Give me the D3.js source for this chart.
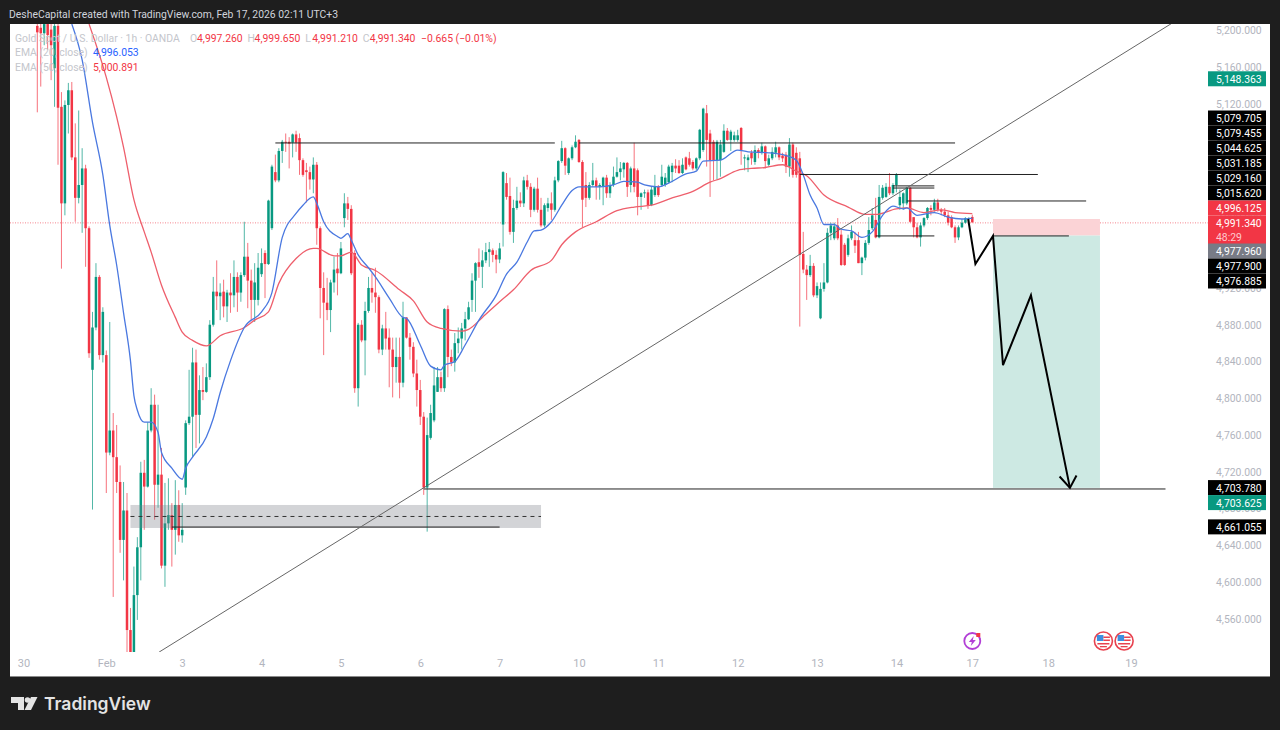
<!DOCTYPE html>
<html>
<head>
<meta charset="utf-8">
<script src="https://cdn.jsdelivr.net/npm/d3@7"></script>
<style>
	html, body { margin: 0; background: #1e1e1e; }
	svg { display: block; font-family: Roboto, sans-serif; }
</style>
</head>
<body>
<svg id="chart" width="1280" height="730"></svg>
<script>
// hourly XAUUSD bars
const opens = [
	5205,5203,5197,5207,5201,5159,5205,5117,5012,5119,
	5135,5062,5018,5032,5050,4985,4831,4877,4932,4847,
	4847,4741,4765,4736,4709,4646,4678,4548,4524,4586,
	4638,4719,4704,4765,4793,4706,4717,4618,4664,4673,
	4657,4684,4651,4703,4773,4780,4839,4782,4809,4807,
	4823,4880,4916,4911,4916,4900,4915,4912,4932,4915,
	4934,4954,4928,4907,4907,4935,4958,4946,4985,5046,
	5037,5069,5079,5079,5078,5087,5083,5059,5048,5046,
	5038,5054,4985,4920,4904,4896,4926,4941,4936,4996,
	5012,5006,4958,4811,4880,4863,4895,4920,4915,4910,
	4853,4876,4866,4853,4834,4845,4817,4888,4866,4856,
	4827,4809,4780,4703,4757,4776,4807,4823,4811,4897,
	4845,4839,4860,4865,4876,4886,4907,4928,4948,4943,
	4950,4959,4961,4956,4951,4989,5034,5020,4981,5007,
	5015,5012,5037,5030,5005,5028,5005,4988,5007,5012,
	5005,5037,5058,5072,5045,5061,5073,5081,5057,5032,
	5018,5032,5037,5030,5030,5040,5023,5032,5041,5046,
	5049,5056,5032,5050,5048,5019,5023,5024,5010,5021,
	5030,5032,5032,5035,5046,5053,5053,5045,5062,5061,
	5057,5050,5061,5070,5110,5088,5079,5059,5059,5068,
	5091,5081,5081,5081,5094,5061,5059,5067,5057,5070,
	5067,5074,5054,5061,5067,5073,5064,5065,5052,5076,
	5067,5061,4957,4940,4934,4944,4912,4887,4919,4926,
	4980,4974,4988,4978,4967,4956,4974,4972,4972,4947,
	4953,4969,4985,4994,4975,5018,5019,5030,5023,5032,
	5010,5012,5012,5029,4997,4986,4975,4988,4996,5007,
	5005,5013,5005,5003,4999,4997,4986,4975,4986,4991,
	4995,4997.26
]
const highs = [
	5211,5209,5211,5211,5207,5211,5211,5133,5124,5143,
	5144,5099,5113,5072,5054,4987,4894,4947,4934,4899,
	4852,4883,4784,4771,4727,4709,4697,4572,4617,4649,
	4731,4733,4774,4811,4804,4793,4746,4708,4713,4686,
	4711,4700,4686,4776,4831,4855,4853,4825,4834,4838,
	4885,4932,4950,4925,4929,4918,4936,4950,4937,4937,
	4992,4969,4940,4947,4958,4963,4961,5016,5054,5065,
	5072,5081,5088,5084,5088,5091,5088,5061,5056,5052,
	5062,5057,4987,4937,4931,4929,4954,4958,4970,5023,
	5019,5010,4961,4882,4885,4905,4932,4936,4942,4912,
	4880,4894,4876,4866,4866,4866,4905,4888,4871,4861,
	4842,4820,4785,4779,4793,4834,4834,4829,4898,4901,
	4853,4871,4877,4882,4894,4905,4936,4948,4963,4961,
	4969,4970,4963,4961,4969,5047,5045,5040,5016,5030,
	5024,5041,5043,5034,5030,5040,5018,5012,5018,5024,
	5041,5059,5080,5073,5062,5075,5086,5082,5059,5046,
	5035,5056,5040,5034,5041,5043,5035,5052,5062,5057,
	5057,5057,5052,5078,5050,5024,5027,5027,5030,5043,
	5032,5054,5045,5054,5056,5060,5059,5061,5063,5068,
	5059,5062,5093,5116,5119,5092,5081,5081,5081,5098,
	5094,5092,5090,5092,5095,5065,5065,5070,5075,5072,
	5078,5075,5065,5073,5079,5074,5067,5068,5083,5078,
	5073,5068,4981,4945,4956,4947,4926,4926,4947,4985,
	4991,4991,4996,4983,4969,4978,4988,4981,4981,4954,
	4972,4997,5007,5018,5032,5032,5034,5045,5034,5045,
	5027,5024,5030,5030,4997,4991,4991,4997,5008,5010,
	5017,5017,5007,5007,5003,4999,4988,4988,4995,4997,
	4997,4999.65
]
const lows = [
	5111,5139,5184,5179,5146,5117,5054,4941,4999,5088,
	5059,4992,5012,4980,4943,4844,4679,4874,4842,4839,
	4697,4738,4584,4697,4632,4602,4524,4524,4524,4559,
	4602,4657,4703,4763,4668,4681,4615,4595,4657,4617,
	4630,4644,4643,4695,4771,4736,4746,4751,4798,4806,
	4820,4878,4896,4885,4888,4883,4893,4899,4894,4905,
	4932,4898,4885,4883,4901,4932,4909,4945,4983,5035,
	5035,5056,5068,5050,5062,5068,5043,5041,5013,5027,
	5023,4967,4887,4847,4885,4872,4915,4912,4935,4986,
	4994,4934,4806,4791,4861,4825,4893,4904,4893,4849,
	4847,4853,4812,4801,4817,4800,4812,4865,4842,4823,
	4791,4771,4695,4655,4755,4774,4807,4807,4807,4823,
	4835,4829,4849,4853,4863,4885,4894,4894,4931,4920,
	4947,4943,4948,4936,4947,4965,5016,4978,4969,5005,
	5008,5008,5027,4997,5003,5002,4986,4986,5003,4994,
	5003,5035,5056,5043,5043,5059,5072,5056,4986,5008,
	5016,5030,5016,5016,5010,5018,5018,5030,5040,5037,
	5040,5019,5024,5024,4999,5005,5018,5006,5009,5019,
	5019,5030,5030,5034,5035,5045,5044,5044,5048,5052,
	5048,5048,5059,5068,5052,5019,5037,5038,5041,5067,
	5080,5069,5079,5079,5054,5048,5046,5054,5054,5061,
	5065,5050,5052,5059,5062,5059,5057,5045,5041,5040,
	5040,4878,4936,4907,4932,4910,4909,4886,4916,4925,
	4972,4972,4972,4944,4944,4954,4972,4958,4947,4934,
	4950,4967,4983,4974,4974,5016,5018,5021,5021,5024,
	5005,5005,5010,4991,4975,4974,4965,4986,4994,4999,
	5003,5003,4999,4997,4988,4985,4969,4972,4985,4990,
	4991,4991.21
]
const closes = [
	5198,5197,5207,5195,5184,5205,5116,5012,5119,5135,
	5062,5018,5032,5050,4985,4849,4877,4932,4847,4894,
	4741,4765,4736,4709,4646,4678,4548,4524,4586,4638,
	4719,4704,4765,4793,4706,4717,4618,4664,4673,4657,
	4684,4651,4657,4773,4780,4839,4782,4809,4807,4823,
	4880,4916,4911,4915,4900,4915,4912,4932,4915,4934,
	4954,4928,4907,4926,4942,4947,4946,5015,5052,5037,
	5069,5079,5078,5077,5087,5078,5059,5043,5046,5038,
	5054,4985,4920,4904,4896,4926,4940,4936,4963,5012,
	5006,4936,4811,4880,4863,4895,4920,4915,4910,4853,
	4876,4865,4853,4834,4845,4817,4888,4866,4856,4827,
	4809,4780,4703,4760,4784,4814,4823,4811,4897,4845,
	4839,4860,4865,4876,4886,4899,4928,4947,4943,4950,
	4959,4962,4956,4951,4963,5046,5019,4981,5007,5015,
	5012,5037,5030,5005,5028,5005,4988,5010,5012,5005,
	5037,5058,5072,5053,5061,5073,5079,5057,5016,5018,
	5032,5037,5030,5032,5040,5023,5032,5041,5046,5050,
	5056,5030,5050,5030,5019,5023,5024,5010,5027,5030,
	5021,5041,5040,5052,5053,5050,5045,5054,5049,5054,
	5050,5061,5092,5115,5081,5059,5059,5079,5076,5091,
	5081,5090,5086,5086,5070,5062,5062,5061,5070,5067,
	5074,5058,5061,5068,5073,5062,5061,5052,5076,5043,
	5043,4956,4940,4934,4944,4912,4922,4919,4926,4980,
	4988,4987,4974,4945,4945,4974,4981,4966,4947,4953,
	4969,4983,4999,4975,5019,5029,5030,5023,5032,5043,
	5019,5023,5029,4992,4986,4975,4988,4996,5007,5005,
	5013,5005,5003,4999,4991,4986,4975,4986,4991,4996,
	4996,4991.34
]

const ema20Bars = [10,13,16,19,21,23,25,27,28,29,31,33,35,36,39,42,43,45,49,51,53,56,60,65,68,71,75,77,80,81,83,87,88,90,91,93,96,98,102,106,107,111,114,117,118,121,124,128,133,136,139,142,144,146,149,152,155,157,163,167,170,174,176,180,183,188,191,193,198,203,206,212,217,220,222,224,226,228,231,233,236,239,242,245,248,251,252,255,260,264,268,271]
const ema20 = [5207,5168,5100,5043,4988,4945,4893,4841,4803,4787,4774,4774,4763,4741,4724,4712,4724,4736,4758,4778,4806,4841,4877,4894,4915,4975,5001,5010,5019,5012,4992,4976,4974,4979,4972,4956,4942,4932,4909,4888,4887,4858,4835,4831,4836,4840,4858,4885,4912,4935,4948,4970,4982,4983,4992,5010,5026,5030,5030,5032,5036,5035,5032,5030,5034,5044,5047,5058,5059,5070,5068,5067,5064,5059,5043,5021,5007,4989,4989,4984,4982,4975,4981,4999,5009,5006,5007,4999,5002,4997,4995,4996.053]
const ema50Bars = [15,20,23,25,28,31,33,36,40,42,45,49,53,60,63,67,70,75,80,81,86,88,91,94,98,105,109,113,117,123,125,129,134,138,143,149,152,156,162,168,173,178,184,190,195,198,203,207,211,216,220,223,228,235,240,243,249,252,257,262,266,271]
const ema50 = [5207,5149,5106,5073,5016,4981,4959,4923,4888,4872,4863,4857,4868,4877,4885,4894,4925,4952,4963,4963,4955,4955,4959,4945,4939,4918,4906,4883,4876,4873,4875,4888,4905,4918,4939,4950,4967,4981,4992,5004,5008,5010,5018,5025,5035,5039,5048,5050,5051,5054,5047,5042,5021,5008,5000,5000,5006,5007,5002,5005,5002,5000.891]

const yTicks = [5200,5160,5120,5080,5040,5000,4960,4920,4880,4840,4800,4760,4720,4680,4640,4600,4560]
const timeBars = [-4,20,42,65,88,111,134,157,180,203,226,249,271,293,317]
const timeLabels = ['30','Feb','3','4','5','6','7','10','11','12','13','14','17','18','19']

// drawings: [startBar, endBar, price]
const hLines = [
	[69,150,5077.7],[157,266,5077.7],[221,290,5043.4],
	[248,260,5031],[248,260,5028.7],[252,304,5014.6],
	[243,260,4976.6],[277,299,4976.6],[112,327,4701.4],[39,134,4660]
]
const trendBars = [35.3,328.9]
const trendPrices = [4524,5208]
const zoneBars = [27,146]
const zonePrices = [4684,4659,4671.5]
const shortBars = [277,308]
const shortPrices = [4995,4977,4702.6]
const pathBars = [269.8,271.9,277,279.9,288,299.3]
const pathPrices = [4995,4946,4976.6,4836,4912,4702.6]
const headBars = [296.3,299.3,301.2]
const headPrices = [4715,4702.6,4716]

const labelValues = [5148.363,5079.705,5079.455,5044.625,5031.185,5029.16,5015.62,4996.125,4991.34,4977.96,4977.9,4976.885,4703.78,4703.625,4661.055]
const labelKinds = ['up','pin','pin','pin','pin','pin','pin','down','last','entry','pin','pin','pin','up','pin']
const eventBars = [309,315]
const lightningBar = 271

const W = 1280, H = 730
const plot = { left: 10, right: 1270, top: 24, bottom: 676, axis: 1208 }
const UP = '#089981', DOWN = '#f23645'
const kindColor = { up: UP, pin: '#000', down: DOWN, last: DOWN, entry: '#787b86' }
const fontSize = 10.4

const svg = d3.select('#chart')
const xScale = d3.scaleLinear().domain([0, 271]).range([37.3, 972.3])
const yScale = d3.scaleLinear().domain([4560, 5200]).range([619, 30.5])
const fmt = d3.format(',.3f')

svg.append('rect').attr('width', W).attr('height', H).attr('fill', '#1e1e1e')
svg.append('rect').attr('x', plot.left).attr('y', plot.top)
	.attr('width', plot.right - plot.left).attr('height', plot.bottom - plot.top)
	.attr('fill', '#fff')
svg.append('line').attr('x1', plot.left).attr('x2', plot.right)
	.attr('y1', plot.bottom + 0.5).attr('y2', plot.bottom + 0.5).attr('stroke', '#8a8a8a')

svg.append('clipPath').attr('id', 'pane').append('rect')
	.attr('x', plot.left).attr('y', plot.top)
	.attr('width', plot.axis - plot.left).attr('height', 652 - plot.top)

const pane = svg.append('g').attr('clip-path', 'url(#pane)')

// last price line
const lastY = yScale(closes[closes.length - 1]) + 0.5
pane.append('line')
	.attr('x1', plot.left).attr('x2', plot.axis)
	.attr('y1', lastY).attr('y2', lastY)
	.attr('stroke', DOWN).attr('stroke-dasharray', '1,1.5').attr('stroke-opacity', 0.6)

// short position box
pane.append('rect')
	.attr('x', xScale(shortBars[0])).attr('width', xScale(shortBars[1]) - xScale(shortBars[0]))
	.attr('y', yScale(shortPrices[0])).attr('height', yScale(shortPrices[1]) - yScale(shortPrices[0]))
	.attr('fill', '#fbd3d6')
pane.append('rect')
	.attr('x', xScale(shortBars[0])).attr('width', xScale(shortBars[1]) - xScale(shortBars[0]))
	.attr('y', yScale(shortPrices[1])).attr('height', yScale(shortPrices[2]) - yScale(shortPrices[1]))
	.attr('fill', '#cde9e3')

// candles
const candles = pane.append('g').selectAll('g').data(d3.range(opens.length)).join('g')
candles.append('line')
	.attr('x1', i => xScale(i)).attr('x2', i => xScale(i))
	.attr('y1', i => yScale(highs[i])).attr('y2', i => yScale(lows[i]))
	.attr('stroke', i => closes[i] >= opens[i] ? UP : DOWN)
	.attr('stroke-opacity', 0.7)
candles.append('rect')
	.attr('x', i => xScale(i) - 1.25).attr('width', 2.5)
	.attr('y', i => yScale(Math.max(opens[i], closes[i])))
	.attr('height', i => Math.max(1, Math.abs(yScale(opens[i]) - yScale(closes[i]))))
	.attr('fill', i => closes[i] >= opens[i] ? UP : DOWN)

// moving averages
const emaLine = d3.line().curve(d3.curveMonotoneX).x(d => xScale(d[0])).y(d => yScale(d[1]))
const polyLine = d3.line().x(d => xScale(d[0])).y(d => yScale(d[1]))
pane.append('path').attr('d', emaLine(d3.zip(ema50Bars, ema50)))
	.attr('fill', 'none').attr('stroke', '#ee5f6c').attr('stroke-width', 1.3)
pane.append('path').attr('d', emaLine(d3.zip(ema20Bars, ema20)))
	.attr('fill', 'none').attr('stroke', '#4a78e0').attr('stroke-width', 1.3)

// grey zone with its dashed midline
pane.append('rect')
	.attr('x', xScale(zoneBars[0])).attr('width', xScale(zoneBars[1]) - xScale(zoneBars[0]))
	.attr('y', yScale(zonePrices[0])).attr('height', yScale(zonePrices[1]) - yScale(zonePrices[0]))
	.attr('fill', '#787b86').attr('fill-opacity', 0.33)
pane.append('line')
	.attr('x1', xScale(zoneBars[0])).attr('x2', xScale(zoneBars[1]))
	.attr('y1', yScale(zonePrices[2])).attr('y2', yScale(zonePrices[2]))
	.attr('stroke', '#333').attr('stroke-dasharray', '4,4')

pane.append('g').selectAll('line').data(hLines).join('line')
	.attr('x1', d => xScale(d[0])).attr('x2', d => xScale(d[1]))
	.attr('y1', d => yScale(d[2])).attr('y2', d => yScale(d[2]))
	.attr('stroke', '#222').attr('stroke-width', 1)

pane.append('line')
	.attr('x1', xScale(trendBars[0])).attr('x2', xScale(trendBars[1]))
	.attr('y1', yScale(trendPrices[0])).attr('y2', yScale(trendPrices[1]))
	.attr('stroke', '#666').attr('stroke-width', 1)

// projected path
pane.append('path').attr('d', polyLine(d3.zip(pathBars, pathPrices)))
	.attr('fill', 'none').attr('stroke', '#000').attr('stroke-width', 2)
pane.append('path').attr('d', polyLine(d3.zip(headBars, headPrices)))
	.attr('fill', 'none').attr('stroke', '#000').attr('stroke-width', 2)

// axes
const yAxis = d3.axisRight(yScale).tickValues(yTicks).tickSize(0).tickPadding(8).tickFormat(fmt)
const yG = svg.append('g').attr('transform', `translate(${plot.axis},0)`).call(yAxis)
yG.select('.domain').remove()
yG.selectAll('text').attr('fill', '#b2b5be').attr('font-size', fontSize).attr('font-family', 'Roboto, sans-serif')

const xAxis = d3.axisBottom(xScale).tickValues(timeBars).tickSize(0).tickPadding(0)
	.tickFormat((d, i) => timeLabels[i])
const xG = svg.append('g').attr('transform', 'translate(0,659)').call(xAxis)
xG.select('.domain').remove()
xG.selectAll('text').attr('fill', '#b2b5be').attr('font-size', 11).attr('font-family', 'Roboto, sans-serif')

// price labels: the middle ones sit in one tight stack, the rest only push apart
const stackFirst = 1, stackLast = 11, stackTop = 118
let prevY = -100
labelValues.forEach((v, i) => {
	let y = Math.max(yScale(v) + 0.8, prevY + 15)
	if (i === stackFirst) y = stackTop
	else if (i > stackFirst && i <= stackLast) y = prevY + 15
	const tall = labelKinds[i] === 'last'
	const boxH = tall ? 29 : 15
	svg.append('rect').attr('x', plot.axis).attr('y', y - 7.5)
		.attr('width', 58).attr('height', boxH).attr('fill', kindColor[labelKinds[i]])
	svg.append('text').attr('x', plot.axis + 8).attr('y', y + 4)
		.attr('font-size', fontSize).attr('fill', '#fff').text(fmt(v))
	if (tall) {
		svg.append('text').attr('x', plot.axis + 8).attr('y', y + 18)
			.attr('font-size', fontSize).attr('fill', '#ffc9ce').text('48:29')
	}
	prevY = tall ? y + 13 : y
})

// header and legend
svg.append('text').attr('x', 9).attr('y', 18).attr('font-size', fontSize).attr('fill', '#d1d4dc')
	.text('DesheCapital created with TradingView.com, Feb 17, 2026 02:11 UTC+3')

const legendGrey = '#c4c6cc'
const ohlcLabels = ['O', 'H', 'L', 'C']
const ohlcValues = ['4,997.260', '4,999.650', '4,991.210', '4,991.340']
const legend = svg.append('g').attr('font-size', fontSize)
legend.append('text').attr('x', 15).attr('y', 42).attr('fill', legendGrey)
	.text('Gold Spot / U.S. Dollar · 1h · OANDA')
ohlcLabels.forEach((l, i) => {
	const x = 190 + i * 57.6
	legend.append('text').attr('x', x).attr('y', 42).attr('fill', legendGrey).text(l)
	legend.append('text').attr('x', x + 7).attr('y', 42).attr('fill', DOWN).text(ohlcValues[i])
})
legend.append('text').attr('x', 421).attr('y', 42).attr('fill', DOWN).text('−0.665 (−0.01%)')
legend.append('text').attr('x', 15).attr('y', 56).attr('fill', legendGrey).text('EMA (20, close)')
legend.append('text').attr('x', 93).attr('y', 56).attr('fill', '#2962ff').text('4,996.053')
legend.append('text').attr('x', 15).attr('y', 71).attr('fill', legendGrey).text('EMA (50, close)')
legend.append('text').attr('x', 93).attr('y', 71).attr('fill', DOWN).text('5,000.891')

// economic event icons
const bolt = svg.append('g').attr('transform', `translate(${xScale(lightningBar)},641)`)
bolt.append('circle').attr('r', 8).attr('fill', 'none').attr('stroke', '#b23fd6').attr('stroke-width', 1.8)
bolt.append('path').attr('d', 'M1.5,-5 L-3.5,1 L-0.5,1 L-1.5,5 L3.5,-1 L0.5,-1 Z').attr('fill', '#b23fd6')
bolt.append('rect').attr('x', 4).attr('y', -8).attr('width', 4).attr('height', 4).attr('fill', DOWN)

eventBars.forEach(b => {
	const g = svg.append('g').attr('transform', `translate(${xScale(b)},641)`)
	g.append('circle').attr('r', 9).attr('fill', '#fff').attr('stroke', '#e8424f').attr('stroke-width', 1.6)
	g.append('rect').attr('x', -6.5).attr('y', -6).attr('width', 6.5).attr('height', 6).attr('fill', '#3d8fe0')
	g.append('rect').attr('x', 0).attr('y', -4.5).attr('width', 6.5).attr('height', 1.5).attr('fill', '#e8424f')
	g.append('rect').attr('x', 0).attr('y', -1.5).attr('width', 6.5).attr('height', 1.5).attr('fill', '#e8424f')
	g.append('rect').attr('x', -6).attr('y', 2).attr('width', 12).attr('height', 1.5).attr('fill', '#e8424f')
	g.append('rect').attr('x', -3.5).attr('y', 5).attr('width', 7).attr('height', 1.3).attr('fill', '#e8424f')
})

// footer logo
const logo = svg.append('g').attr('fill', '#e4e4e4')
logo.append('path').attr('d', 'M11,697 H24 V710 H18 V703 H11 Z')
logo.append('circle').attr('cx', 27.5).attr('cy', 700).attr('r', 2.8)
logo.append('path').attr('d', 'M31,697 H37.5 L31,710 H24.5 Z')
logo.append('text').attr('x', 44).attr('y', 709.5).attr('font-size', 17.5).attr('font-weight', 600)
	.attr('font-family', 'Inter, sans-serif').text('TradingView')
</script>
</body>
</html>
